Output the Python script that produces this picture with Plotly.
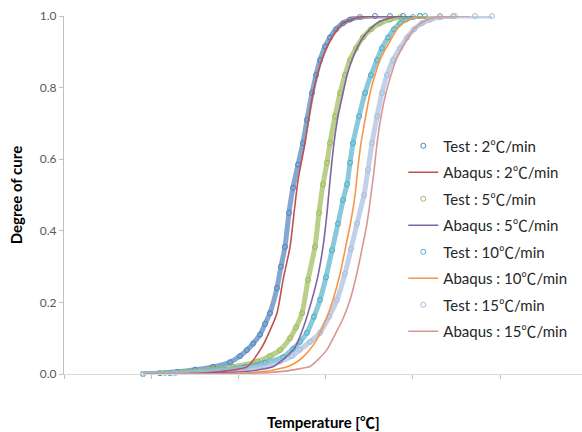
import plotly.graph_objects as go

# Temperature values (axis units, ticks every 50) and degree of cure
t_test2 = [45.3, 55.0, 64.8, 75.1, 85.4, 95.2, 100.9, 104.9, 108.4, 112.4, 115.3, 118.1, 122.1, 124.4, 126.7, 129.0, 131.3, 134.2, 137.0, 139.3, 142.2, 144.5, 146.8, 149.7, 152.5, 156.0, 160.0, 164.0, 169.7, 178.3, 186.9, 194.4]
a_test2 = [0.0, 0.002, 0.006, 0.012, 0.02, 0.033, 0.05, 0.067, 0.085, 0.11, 0.14, 0.17, 0.24, 0.30, 0.355, 0.45, 0.52, 0.585, 0.645, 0.71, 0.785, 0.835, 0.877, 0.915, 0.94, 0.963, 0.98, 0.99, 0.997, 1.0, 1.0, 1.0]

t_abq2 = [45.3, 78.0, 92.3, 104.9, 113.5, 122.1, 125.6, 129.6, 131.9, 134.2, 138.2, 142.8, 147.9, 153.7, 160.0, 169.7, 181.2, 194.4]
a_abq2 = [0.0, 0.002, 0.008, 0.02, 0.075, 0.17, 0.263, 0.355, 0.45, 0.542, 0.645, 0.785, 0.877, 0.94, 0.98, 0.997, 1.0, 1.0]

t_test5 = [45.3, 57.9, 68.2, 83.7, 96.9, 110.7, 118.1, 123.9, 129.6, 133.0, 136.5, 139.9, 143.9, 146.2, 148.5, 150.8, 152.5, 155.4, 158.3, 161.1, 164.0, 167.4, 171.4, 176.0, 181.2, 186.9, 192.7, 204.1, 215.6, 223.1]
a_test5 = [0.0, 0.003, 0.006, 0.012, 0.02, 0.035, 0.05, 0.067, 0.10, 0.13, 0.17, 0.263, 0.355, 0.45, 0.53, 0.59, 0.645, 0.72, 0.785, 0.835, 0.877, 0.91, 0.94, 0.963, 0.98, 0.99, 0.997, 1.0, 1.0, 1.0]

t_abq5 = [45.3, 78.0, 95.2, 109.5, 119.8, 126.7, 132.5, 136.5, 139.9, 145.1, 148.5, 150.8, 152.5, 154.8, 157.1, 160.0, 162.3, 165.1, 168.0, 171.4, 175.5, 179.5, 184.1, 188.6, 195.5, 200.1]
a_abq5 = [0.0, 0.001, 0.004, 0.01, 0.02, 0.045, 0.075, 0.12, 0.17, 0.263, 0.355, 0.45, 0.54, 0.645, 0.72, 0.785, 0.835, 0.877, 0.91, 0.94, 0.963, 0.98, 0.99, 0.997, 1.0, 1.0]

t_test10 = [45.3, 60.8, 78.0, 92.3, 103.8, 115.3, 125.6, 131.3, 135.3, 139.3, 143.3, 146.8, 150.2, 153.7, 157.1, 160.0, 162.3, 164.0, 165.7, 169.2, 172.6, 176.0, 179.5, 182.3, 185.8, 189.2, 192.7, 196.1, 200.1, 204.1, 207.0]
a_test10 = [0.0, 0.002, 0.006, 0.012, 0.02, 0.032, 0.047, 0.07, 0.09, 0.115, 0.16, 0.207, 0.27, 0.346, 0.42, 0.486, 0.53, 0.59, 0.645, 0.72, 0.785, 0.835, 0.877, 0.91, 0.94, 0.963, 0.98, 0.99, 0.997, 1.0, 1.0]

t_abq10 = [45.3, 78.0, 100.9, 112.4, 121.0, 127.9, 133.0, 137.0, 142.8, 146.8, 150.8, 154.2, 158.3, 161.7, 164.6, 166.9, 168.6, 170.3, 172.6, 175.5, 178.3, 181.2, 184.6, 188.1, 190.9, 194.4, 198.4, 202.4, 208.7]
a_abq10 = [0.0, 0.0005, 0.002, 0.006, 0.012, 0.02, 0.032, 0.047, 0.08, 0.115, 0.16, 0.207, 0.28, 0.36, 0.43, 0.50, 0.58, 0.645, 0.71, 0.785, 0.835, 0.877, 0.91, 0.94, 0.963, 0.98, 0.99, 0.997, 1.0]

t_test15 = [45.3, 63.6, 78.0, 95.2, 112.4, 123.9, 130.7, 135.3, 141.1, 146.8, 152.0, 156.5, 161.1, 164.6, 168.0, 172.0, 174.3, 176.6, 179.5, 182.3, 185.2, 188.6, 192.7, 196.7, 200.7, 205.3, 209.9, 215.6, 224.2, 235.7, 245.4]
a_test15 = [0.0, 0.002, 0.006, 0.012, 0.02, 0.035, 0.05, 0.068, 0.09, 0.115, 0.16, 0.207, 0.28, 0.35, 0.42, 0.50, 0.57, 0.645, 0.72, 0.785, 0.835, 0.877, 0.91, 0.94, 0.963, 0.98, 0.99, 0.997, 1.0, 1.0, 1.0]

t_abq15 = [45.3, 89.4, 112.4, 126.7, 135.3, 141.1, 145.6, 150.8, 155.4, 160.0, 164.0, 167.4, 170.9, 173.7, 176.0, 177.8, 179.5, 181.8, 184.6, 187.5, 190.4, 193.8, 197.2, 200.7, 204.7, 208.7, 213.9, 221.3, 232.8]
a_abq15 = [0.0, 0.0005, 0.003, 0.008, 0.015, 0.021, 0.04, 0.068, 0.11, 0.155, 0.207, 0.27, 0.35, 0.42, 0.50, 0.57, 0.645, 0.72, 0.785, 0.835, 0.877, 0.91, 0.94, 0.963, 0.98, 0.99, 0.997, 1.0, 1.0]

x_ticks = [0, 50, 100, 150, 200, 250]
y_ticks = [0.0, 0.2, 0.4, 0.6, 0.8, 1.0]

DEG = "<span style=\"font-family:'Noto Sans CJK JP'\">℃</span>"

tests = [
    ("Test : 2" + DEG + "/min", t_test2, a_test2, "#4F81BD", "rgba(79,129,189,0.7)"),
    ("Test : 5" + DEG + "/min", t_test5, a_test5, "#9BBB59", "rgba(155,187,89,0.7)"),
    ("Test : 10" + DEG + "/min", t_test10, a_test10, "#4BACC6", "rgba(75,172,198,0.65)"),
    ("Test : 15" + DEG + "/min", t_test15, a_test15, "#A7BDE0", "rgba(167,189,224,0.7)"),
]
abaqus = [
    ("Abaqus : 2" + DEG + "/min", t_abq2, a_abq2, "#C0504D"),
    ("Abaqus : 5" + DEG + "/min", t_abq5, a_abq5, "#8064A2"),
    ("Abaqus : 10" + DEG + "/min", t_abq10, a_abq10, "#F79646"),
    ("Abaqus : 15" + DEG + "/min", t_abq15, a_abq15, "#D99694"),
]

fig = go.Figure()

# test data bands (drawn first)
for name, tx, ty, col, band in tests:
    fig.add_trace(go.Scatter(
        x=tx, y=ty, mode="lines+markers", showlegend=False, cliponaxis=False,
        line=dict(color=band, width=5, shape="spline", smoothing=0.6),
        marker=dict(symbol="circle-open", size=5, color=col, line=dict(width=1)),
        hoverinfo="skip"))

# Abaqus lines and legend entries (interleaved order)
for i in range(4):
    name, tx, ty, col, band = tests[i]
    fig.add_trace(go.Scatter(
        x=[None], y=[None], mode="markers", name=name, legendgroup="t%d" % i,
        marker=dict(symbol="circle-open", size=5, color=col, line=dict(width=1))))
    an, ax, ay, acol = abaqus[i]
    fig.add_trace(go.Scatter(
        x=ax, y=ay, mode="lines", name=an, legendgroup="a%d" % i, cliponaxis=False,
        line=dict(color=acol, width=1.6, shape="spline", smoothing=0.6)))

font_fam = "Lato, 'Open Sans', sans-serif"

fig.update_layout(
    width=582, height=432,
    margin=dict(l=64, r=0, t=16, b=58),
    paper_bgcolor="white", plot_bgcolor="white",
    font=dict(family=font_fam, color="#404040"),
    showlegend=True,
    legend=dict(
        x=0.655, y=0.683, xanchor="left", yanchor="top",
        font=dict(size=15, color="#262626", family=font_fam),
        tracegroupgap=4, itemwidth=30, bgcolor="rgba(0,0,0,0)"),
    xaxis=dict(
        range=[0, 297], tickvals=x_ticks, showticklabels=False,
        ticks="outside", ticklen=4, tickcolor="#BFBFBF",
        showline=True, linecolor="#D9D9D9", linewidth=1,
        showgrid=False, zeroline=False),
    yaxis=dict(
        range=[0, 1], tickvals=y_ticks, tickformat=".1f",
        ticks="outside", ticklen=4, tickcolor="#BFBFBF",
        tickfont=dict(size=12, color="#595959", family=font_fam),
        showline=True, linecolor="#BFBFBF", linewidth=1,
        showgrid=False, zeroline=False),
    annotations=[
        dict(text="<b>Degree of cure</b>", xref="paper", yref="paper",
             x=-0.092, y=0.5, xanchor="center", yanchor="middle", textangle=-90,
             showarrow=False, font=dict(size=15, color="#000000", family=font_fam)),
        dict(text="<b>Temperature [" + DEG + "]</b>", xref="paper", yref="paper",
             x=0.5, y=-0.134, xanchor="center", yanchor="middle",
             showarrow=False, font=dict(size=15, color="#000000", family=font_fam)),
    ],
)

fig.write_html("out.html")
